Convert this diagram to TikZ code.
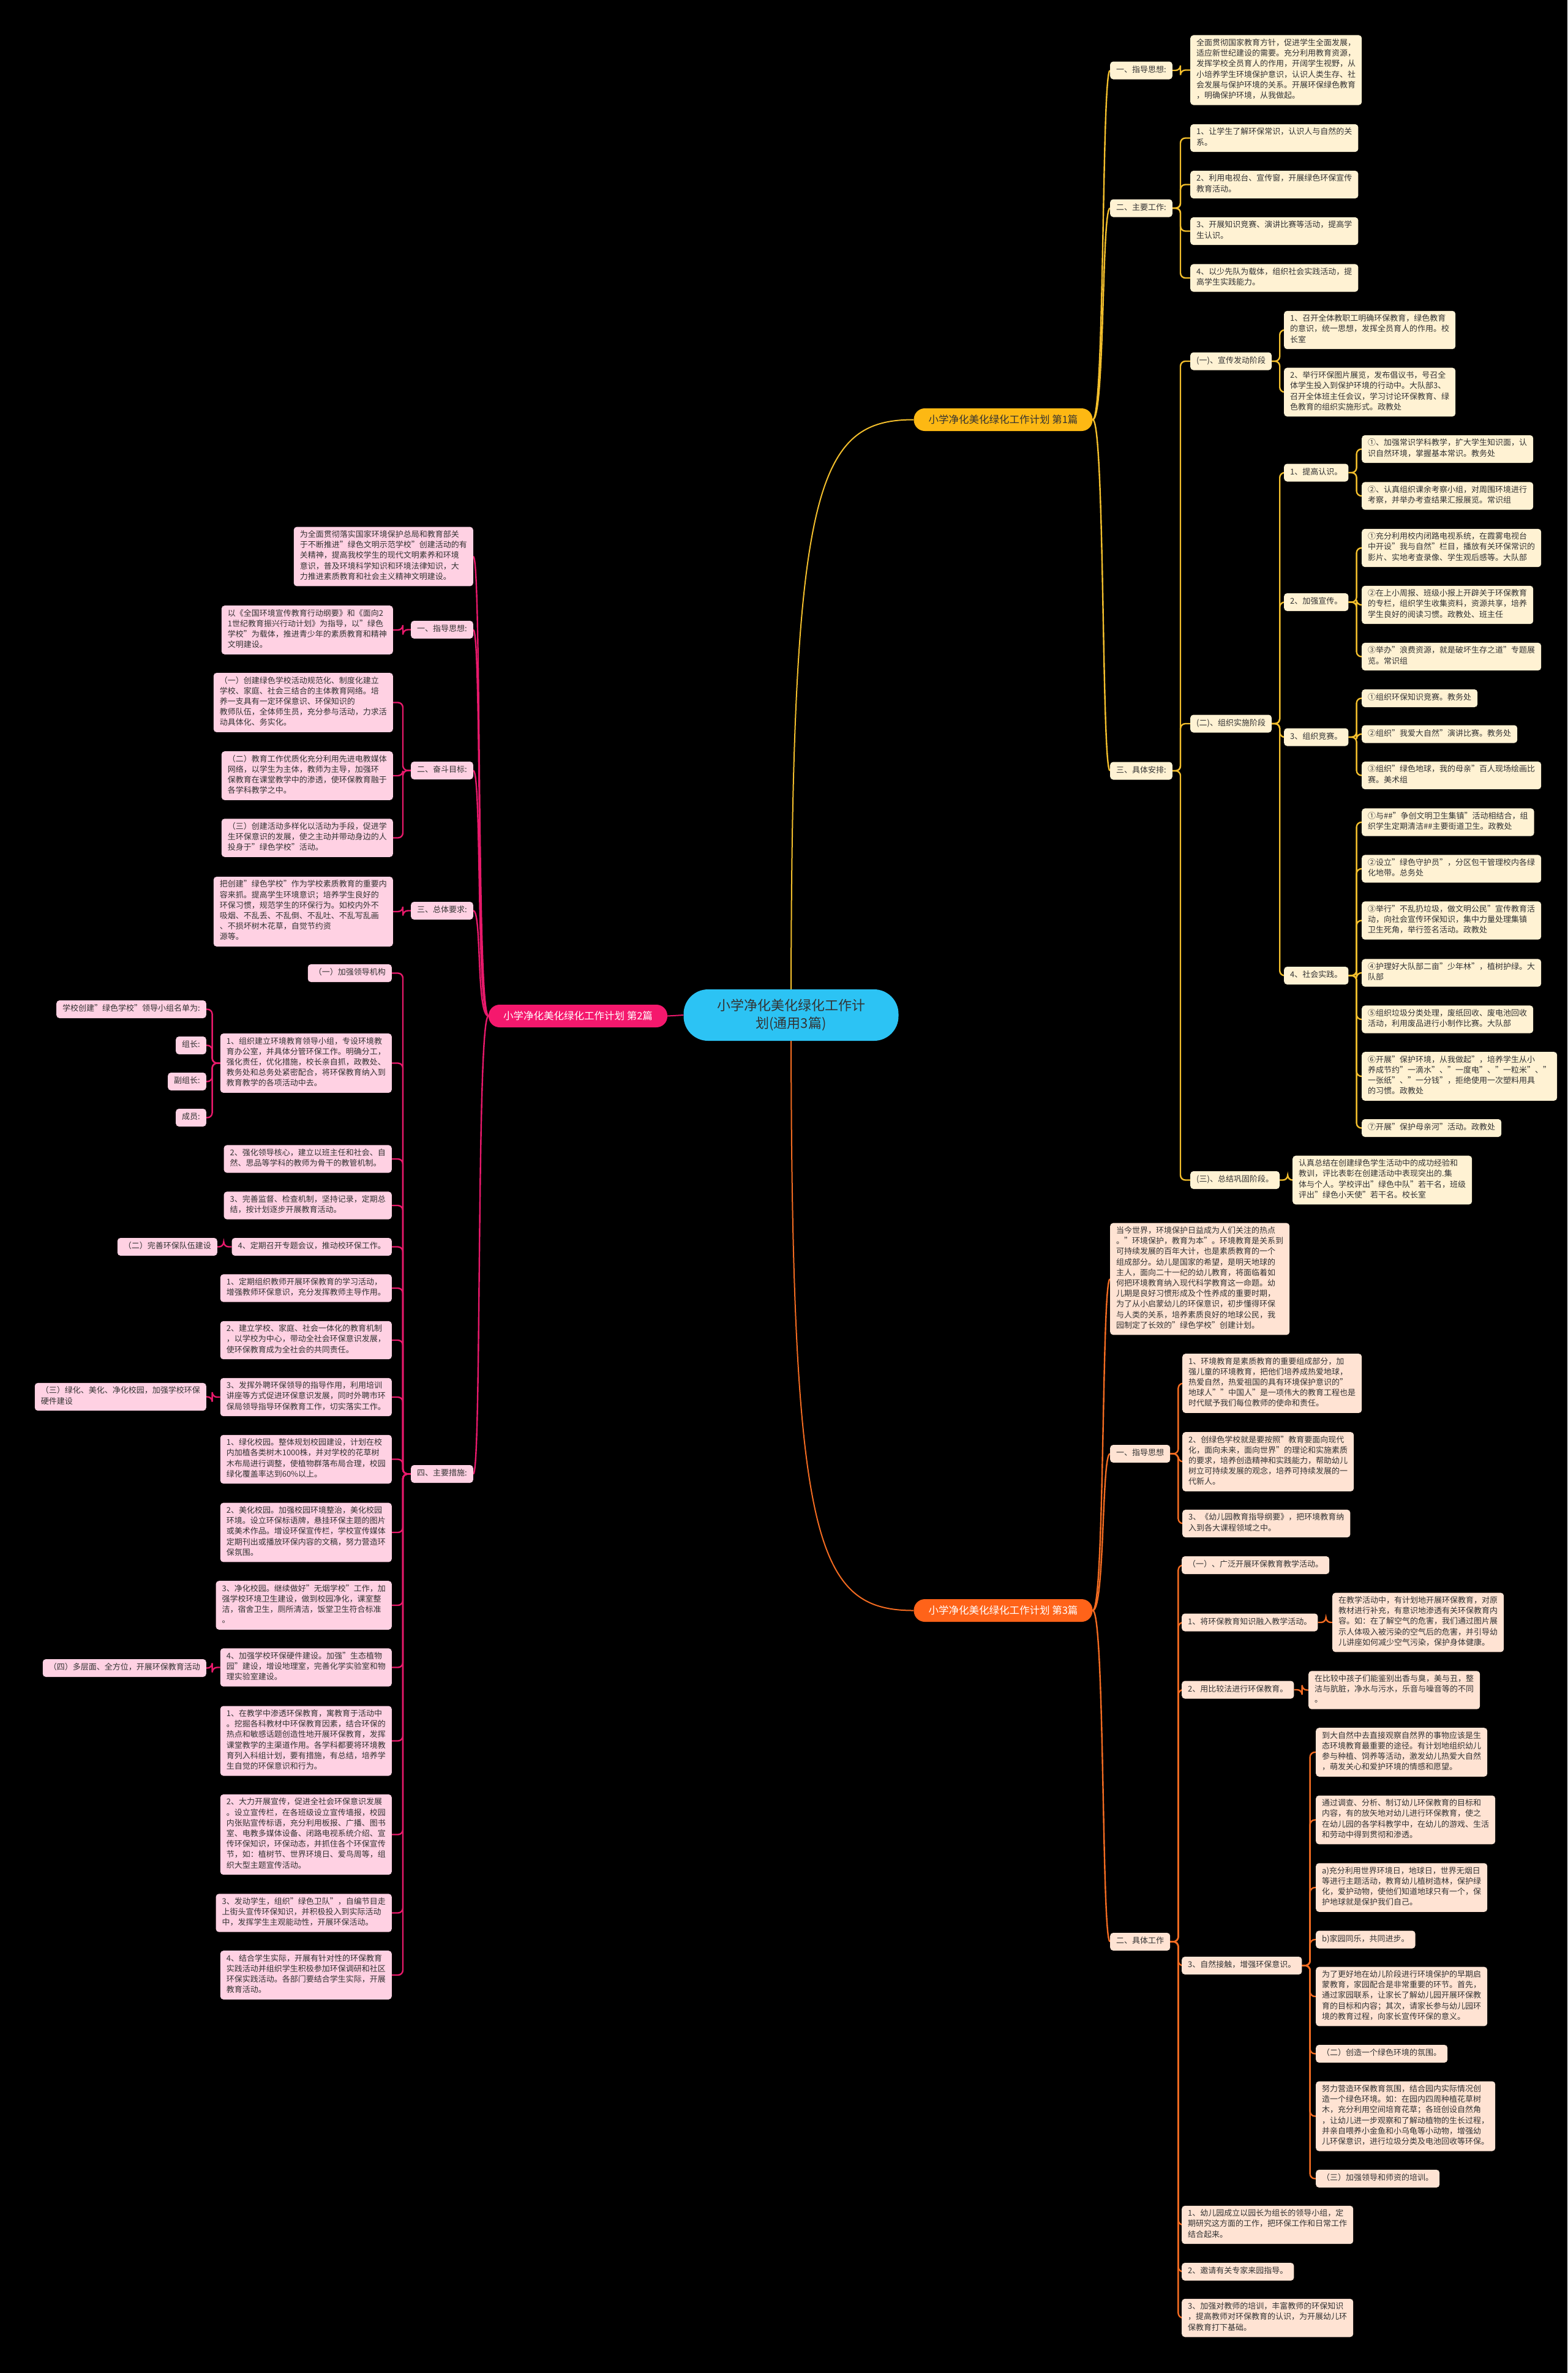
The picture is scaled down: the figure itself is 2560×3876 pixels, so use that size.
\documentclass[tikz,border=0pt]{standalone}
\usepackage{fontspec}
\setmainfont{Noto Sans CJK SC}
\definecolor{txt}{HTML}{333333}
\definecolor{cyanc}{HTML}{2CC3F4}
\definecolor{yfill}{HTML}{FFF2D3}
\definecolor{yline}{HTML}{F2BE2C}
\definecolor{ynode}{HTML}{FDB813}
\definecolor{pfill}{HTML}{FFD1E3}
\definecolor{pline}{HTML}{E8196B}
\definecolor{pnode}{HTML}{F5186D}
\definecolor{ofill}{HTML}{FFE3D3}
\definecolor{oline}{HTML}{F26B21}
\definecolor{onode}{HTML}{FF6319}
\pgfdeclarelayer{bgl}
\pgfdeclarelayer{edges}
\pgfsetlayers{bgl,edges,main}
\tikzset{
  box/.style={rounded corners=5pt, inner xsep=10pt, inner ysep=5.9pt, align=left, text=txt,
    font=\fontsize{13}{17.2}\selectfont, execute at begin node=\strut, execute at end node=\strut},
  ybox/.style={box, fill=yfill, anchor=west},
  obox/.style={box, fill=ofill, anchor=west},
  pbox/.style={box, fill=pfill, anchor=east},
  bnode/.style={rounded corners=18pt, minimum width=292pt, minimum height=37pt, inner sep=0pt,
    font=\fontsize{16.5}{20}\selectfont},
  rootnode/.style={fill=cyanc, rounded corners=40pt, minimum width=351pt, minimum height=84pt,
    align=center, text=txt, font=\fontsize{22}{29.5}\selectfont},
  yl/.style={draw=yline, line width=2.4pt, rounded corners=8pt},
  pl/.style={draw=pline, line width=2.4pt, rounded corners=8pt},
  ol/.style={draw=oline, line width=2.4pt, rounded corners=8pt},
}
\newcommand\edgeR[3]{\draw[#1] (#2.east) -- ++(13,0) |- (#3.west);}
\newcommand\edgeL[3]{\draw[#1] (#2.west) -- ++(-13,0) |- (#3.east);}
\newcommand\curR[3]{\draw[#1] (#2.east) .. controls +(20,0) and +(-14,0) .. (#3.west);}
\newcommand\curL[3]{\draw[#1] (#2.west) .. controls +(-20,0) and +(14,0) .. (#3.east);}
\begin{document}
\begin{tikzpicture}[x=1pt,y=-1pt]
\useasboundingbox (0,0) rectangle (2560,3876);
\begin{pgfonlayer}{bgl}
\fill[black] (0,0) rectangle (2560,3876);
\end{pgfonlayer}

% root and branches
\node[rootnode] (root) at (1292,1658) {小学净化美化绿化工作计\\划(通用3篇)};
\node[bnode, fill=ynode, text=txt] (b1) at (1638.5,685.5) {小学净化美化绿化工作计划 第1篇};
\node[bnode, fill=pnode, text=white] (b2) at (944,1659.5) {小学净化美化绿化工作计划 第2篇};
\node[bnode, fill=onode, text=white] (b3) at (1638.5,2630.5) {小学净化美化绿化工作计划 第3篇};

% ---------------- branch 1
\node[ybox] (a1) at (1813,115) {一、指导思想:};
\node[ybox] (a1x) at (1944,114.5) {全面贯彻国家教育方针，促进学生全面发展，\\适应新世纪建设的需要。充分利用教育资源，\\发挥学校全员育人的作用，开阔学生视野，从\\小培养学生环境保护意识，认识人类生存、社\\会发展与保护环境的关系。开展环保绿色教育\\，明确保护环境，从我做起。};
\node[ybox] (a2) at (1813,340) {二、主要工作:};
\node[ybox] (a2a) at (1944,225.5) {1、让学生了解环保常识，认识人与自然的关\\系。};
\node[ybox] (a2b) at (1944,301.5) {2、利用电视台、宣传窗，开展绿色环保宣传\\教育活动。};
\node[ybox] (a2c) at (1944,377.5) {3、开展知识竞赛、演讲比赛等活动，提高学\\生认识。};
\node[ybox] (a2d) at (1944,454) {4、以少先队为载体，组织社会实践活动，提\\高学生实践能力。};
\node[ybox] (a3) at (1813,1259) {三、具体安排:};
\node[ybox] (a31) at (1944,590) {(一)、宣传发动阶段};
\node[ybox] (a31a) at (2097,539) {1、召开全体教职工明确环保教育，绿色教育\\的意识，统一思想，发挥全员育人的作用。校\\长室};
\node[ybox] (a31b) at (2097,640.5) {2、举行环保图片展览，发布倡议书，号召全\\体学生投入到保护环境的行动中。大队部3、\\召开全体班主任会议，学习讨论环保教育、绿\\色教育的组织实施形式。政教处};
\node[ybox] (a32) at (1944,1182) {(二)、组织实施阶段};
\node[ybox] (a321) at (2097,772) {1、提高认识。};
\node[ybox] (a321a) at (2224,733.5) {①、加强常识学科教学，扩大学生知识面，认\\识自然环境，掌握基本常识。教务处};
\node[ybox] (a321b) at (2224,810) {②、认真组织课余考察小组，对周围环境进行\\考察，并举办考查结果汇报展览。常识组};
\node[ybox] (a322) at (2097,983.5) {2、加强宣传。};
\node[ybox] (a322a) at (2224,895) {①充分利用校内闭路电视系统，在霞雾电视台\\中开设"我与自然"栏目，播放有关环保常识的\\影片、实地考查录像、学生观后感等。大队部};
\node[ybox] (a322b) at (2224,988) {②在上小周报、班级小报上开辟关于环保教育\\的专栏，组织学生收集资料，资源共享，培养\\学生良好的阅读习惯。政教处、班主任};
\node[ybox] (a322c) at (2224,1072.5) {③举办"浪费资源，就是破坏生存之道"专题展\\览。常识组};
\node[ybox] (a323) at (2097,1204) {3、组织竞赛。};
\node[ybox] (a323a) at (2224,1140.5) {①组织环保知识竞赛。教务处};
\node[ybox] (a323b) at (2224,1199) {②组织"我爱大自然"演讲比赛。教务处};
\node[ybox] (a323c) at (2224,1266.5) {③组织"绿色地球，我的母亲"百人现场绘画比\\赛。美术组};
\node[ybox] (a324) at (2097,1593.5) {4、社会实践。};
\node[ybox] (a324a) at (2224,1343) {①与\#\#"争创文明卫生集镇"活动相结合，组\\织学生定期清洁\#\#主要街道卫生。政教处};
\node[ybox] (a324b) at (2224,1419) {②设立"绿色守护员"，分区包干管理校内各绿\\化地带。总务处};
\node[ybox] (a324c) at (2224,1503.5) {③举行"不乱扔垃圾，做文明公民"宣传教育活\\动，向社会宣传环保知识，集中力量处理集镇\\卫生死角，举行签名活动。政教处};
\node[ybox] (a324d) at (2224,1589) {④护理好大队部二亩"少年林"，植树护绿。大\\队部};
\node[ybox] (a324e) at (2224,1665) {⑤组织垃圾分类处理，废纸回收、废电池回收\\活动，利用废品进行小制作比赛。大队部};
\node[ybox] (a324f) at (2224,1758) {⑥开展"保护环境，从我做起"，培养学生从小\\养成节约"一滴水"、"一度电"、"一粒米"、"\\一张纸"、"一分钱"，拒绝使用一次塑料用具\\的习惯。政教处};
\node[ybox] (a324g) at (2224,1842.5) {⑦开展"保护母亲河"活动。政教处};
\node[ybox] (a33) at (1944,1927.5) {(三)、总结巩固阶段。};
\node[ybox] (a33a) at (2111,1927.5) {认真总结在创建绿色学生活动中的成功经验和\\教训，评比表彰在创建活动中表现突出的.集\\体与个人。学校评出"绿色中队"若干名，班级\\评出"绿色小天使"若干名。校长室};

% ---------------- branch 3
\node[obox] (c0) at (1813,2089) {当今世界，环境保护日益成为人们关注的热点\\。"环境保护，教育为本"。环境教育是关系到\\可持续发展的百年大计，也是素质教育的一个\\组成部分。幼儿是国家的希望，是明天地球的\\主人，面向二十一纪的幼儿教育，将面临着如\\何把环境教育纳入现代科学教育这一命题。幼\\儿期是良好习惯形成及个性养成的重要时期，\\为了从小启蒙幼儿的环保意识，初步懂得环保\\与人类的关系，培养素质良好的地球公民，我\\园制定了长效的"绿色学校"创建计划。};
\node[obox] (c1) at (1813,2374.5) {一、指导思想};
\node[obox] (c1a) at (1931,2259.5) {1、环境教育是素质教育的重要组成部分，加\\强儿童的环境教育，把他们培养成热爱地球，\\热爱自然，热爱祖国的具有环境保护意识的"\\地球人""中国人"是一项伟大的教育工程也是\\时代赋予我们每位教师的使命和责任。};
\node[obox] (c1b) at (1931,2387.5) {2、创绿色学校就是要按照"教育要面向现代\\化，面向未来，面向世界"的理论和实施素质\\的要求，培养创造精神和实践能力，帮助幼儿\\树立可持续发展的观念，培养可持续发展的一\\代新人。};
\node[obox] (c1c) at (1931,2488.5) {3、《幼儿园教育指导纲要》，把环境教育纳\\入到各大课程领域之中。};
\node[obox] (c2) at (1813,3171.5) {二、具体工作};
\node[obox] (c21) at (1930,2556.5) {（一）、广泛开展环保教育教学活动。};
\node[obox] (c22) at (1930,2650) {1、将环保教育知识融入教学活动。};
\node[obox] (c22a) at (2176,2650) {在教学活动中，有计划地开展环保教育，对原\\教材进行补充，有意识地渗透有关环保教育内\\容。如：在了解空气的危害，我们通过图片展\\示人体吸入被污染的空气后的危害，并引导幼\\儿讲座如何减少空气污染，保护身体健康。};
\node[obox] (c23) at (1930,2760) {2、用比较法进行环保教育。};
\node[obox] (c23a) at (2137,2760.5) {在比较中孩子们能鉴别出香与臭，美与丑，整\\洁与肮脏，净水与污水，乐音与噪音等的不同\\。};
\node[obox] (c24) at (1930,3210.5) {3、自然接触，增强环保意识。};
\node[obox] (c24a) at (2149,2862) {到大自然中去直接观察自然界的事物应该是生\\态环境教育最重要的途径。有计划地组织幼儿\\参与种植、饲养等活动，激发幼儿热爱大自然\\，萌发关心和爱护环境的情感和愿望。};
\node[obox] (c24b) at (2149,2972.5) {通过调查、分析、制订幼儿环保教育的目标和\\内容，有的放矢地对幼儿进行环保教育，使之\\在幼儿园的各学科教学中，在幼儿的游戏、生活\\和劳动中得到贯彻和渗透。};
\node[obox] (c24c) at (2149,3083) {a)充分利用世界环境日，地球日，世界无烟日\\等进行主题活动，教育幼儿植树造林，保护绿\\化，爱护动物，使他们知道地球只有一个，保\\护地球就是保护我们自己。};
\node[obox] (c24d) at (2149,3168) {b)家园同乐，共同进步。};
\node[obox] (c24e) at (2149,3261) {为了更好地在幼儿阶段进行环境保护的早期启\\蒙教育，家园配合是非常重要的环节。首先，\\通过家园联系，让家长了解幼儿园开展环保教\\育的目标和内容；其次，请家长参与幼儿园环\\境的教育过程，向家长宣传环保的意义。};
\node[obox] (c24f) at (2149,3354.5) {（二）创造一个绿色环境的氛围。};
\node[obox] (c24g) at (2149,3456.5) {努力营造环保教育氛围，结合园内实际情况创\\造一个绿色环境。如：在园内四周种植花草树\\木，充分利用空间培育花草；各班创设自然角\\，让幼儿进一步观察和了解动植物的生长过程，\\并亲自喂养小金鱼和小乌龟等小动物，增强幼\\儿环保意识，进行垃圾分类及电池回收等环保。};
\node[obox] (c24h) at (2149,3558.5) {（三）加强领导和师资的培训。};
\node[obox] (c25) at (1930,3634) {1、幼儿园成立以园长为组长的领导小组，定\\期研究这方面的工作，把环保工作和日常工作\\结合起来。};
\node[obox] (c26) at (1930,3710.5) {2、邀请有关专家来园指导。};
\node[obox] (c27) at (1930,3786) {3、加强对教师的培训，丰富教师的环保知识\\，提高教师对环保教育的认识，为开展幼儿环\\保教育打下基础。};

% ---------------- branch 2
\node[pbox] (d0) at (773,909) {为全面贯彻落实国家环境保护总局和教育部关\\于不断推进"绿色文明示范学校"创建活动的有\\关精神，提高我校学生的现代文明素养和环境\\意识，普及环境科学知识和环境法律知识，大\\力推进素质教育和社会主义精神文明建设。};
\node[pbox] (d1) at (773,1028.5) {一、指导思想:};
\node[pbox] (d1a) at (642,1029) {以《全国环境宣传教育行动纲要》和《面向2\\1世纪教育振兴行动计划》为指导，以"绿色\\学校"为载体，推进青少年的素质教育和精神\\文明建设。};
\node[pbox] (d2) at (773,1258.5) {二、奋斗目标:};
\node[pbox] (d2a) at (642,1147.5) {（一）创建绿色学校活动规范化、制度化建立\\学校、家庭、社会三结合的主体教育网络。培\\养一支具有一定环保意识、环保知识的\\教师队伍，全体师生员，充分参与活动，力求活\\动具体化、务实化。};
\node[pbox] (d2b) at (642,1267) {（二）教育工作优质化充分利用先进电教媒体\\网络，以学生为主体，教师为主导，加强环\\保教育在课堂教学中的渗透，使环保教育融于\\各学科教学之中。};
\node[pbox] (d2c) at (642,1368.5) {（三）创建活动多样化以活动为手段，促进学\\生环保意识的发展，使之主动并带动身边的人\\投身于"绿色学校"活动。};
\node[pbox] (d3) at (773,1487.5) {三、总体要求:};
\node[pbox] (d3a) at (642,1489) {把创建"绿色学校"作为学校素质教育的重要内\\容来抓。提高学生环境意识；培养学生良好的\\环保习惯，规范学生的环保行为。如校内外不\\吸烟、不乱丢、不乱倒、不乱吐、不乱写乱画\\、不损坏树木花草，自觉节约资\\源等。};
\node[pbox] (d4) at (773,2407.5) {四、主要措施:};
\node[pbox] (d41) at (640,1589.5) {（一）加强领导机构};
\node[pbox] (d42) at (640,1736.5) {1、组织建立环境教育领导小组，专设环境教\\育办公室，并具体分管环保工作。明确分工，\\强化责任，优化措施，校长亲自抓，政教处、\\教务处和总务处紧密配合，将环保教育纳入到\\教育教学的各项活动中去。};
\node[pbox] (d42a) at (337,1648.5) {学校创建"绿色学校"领导小组名单为:};
\node[pbox] (d42b) at (337,1707.5) {组长:};
\node[pbox] (d42c) at (337,1766.5) {副组长:};
\node[pbox] (d42d) at (337,1825.5) {成员:};
\node[pbox] (d43) at (640,1893) {2、强化领导核心，建立以班主任和社会、自\\然、思品等学科的教师为骨干的教管机制。};
\node[pbox] (d44) at (640,1969) {3、完善监督、检查机制，坚持记录，定期总\\结，按计划逐步开展教育活动。};
\node[pbox] (d45) at (640,2036.5) {4、定期召开专题会议，推动校环保工作。};
\node[pbox] (d45a) at (355,2036.5) {（二）完善环保队伍建设};
\node[pbox] (d46) at (640,2104) {1、定期组织教师开展环保教育的学习活动，\\增强教师环保意识，充分发挥教师主导作用。};
\node[pbox] (d47) at (640,2189) {2、建立学校、家庭、社会一体化的教育机制\\，以学校为中心，带动全社会环保意识发展，\\使环保教育成为全社会的共同责任。};
\node[pbox] (d48) at (640,2282) {3、发挥外聘环保领导的指导作用，利用培训\\讲座等方式促进环保意识发展，同时外聘市环\\保局领导指导环保教育工作，切实落实工作。};
\node[pbox] (d48a) at (337,2281.5) {（三）绿化、美化、净化校园，加强学校环保\\硬件建设};
\node[pbox] (d49) at (640,2383.5) {1、绿化校园。整体规划校园建设，计划在校\\内加植各类树木1000株，并对学校的花草树\\木布局进行调整，使植物群落布局合理，校园\\绿化覆盖率达到60\%以上。};
\node[pbox] (d410) at (640,2503) {2、美化校园。加强校园环境整治，美化校园\\环境。设立环保标语牌，悬挂环保主题的图片\\或美术作品。增设环保宣传栏，学校宣传媒体\\定期刊出或播放环保内容的文稿，努力营造环\\保氛围。};
\node[pbox] (d411) at (640,2622) {3、净化校园。继续做好"无烟学校"工作，加\\强学校环境卫生建设，做到校园净化，课室整\\洁，宿舍卫生，厕所清洁，饭堂卫生符合标准\\。};
\node[pbox] (d412) at (640,2723.5) {4、加强学校环保硬件建设。加强"生态植物\\园"建设，增设地理室，完善化学实验室和物\\理实验室建设。};
\node[pbox] (d412a) at (337,2724.5) {（四）多层面、全方位，开展环保教育活动};
\node[pbox] (d413) at (640,2843.5) {1、在教学中渗透环保教育，寓教育于活动中\\。挖掘各科教材中环保教育因素，结合环保的\\热点和敏感话题创造性地开展环保教育，发挥\\课堂教学的主渠道作用。各学科都要将环境教\\育列入科组计划，要有措施，有总结，培养学\\生自觉的环保意识和行为。};
\node[pbox] (d414) at (640,2996.5) {2、大力开展宣传，促进全社会环保意识发展\\。设立宣传栏，在各班级设立宣传墙报，校园\\内张贴宣传标语，充分利用板报、广播、图书\\室、电教多媒体设备、闭路电视系统介绍、宣\\传环保知识，环保动态，并抓住各个环保宣传\\节，如：植树节、世界环境日、爱鸟周等，组\\织大型主题宣传活动。};
\node[pbox] (d415) at (640,3124.5) {3、发动学生，组织"绿色卫队"，自编节目走\\上街头宣传环保知识，并积极投入到实际活动\\中，发挥学生主观能动性，开展环保活动。};
\node[pbox] (d416) at (640,3226) {4、结合学生实际，开展有针对性的环保教育\\实践活动并组织学生积极参加环保调研和社区\\环保实践活动。各部门要结合学生实际，开展\\教育活动。};

% ---------------- connectors
\begin{pgfonlayer}{edges}
\draw[draw=yline, line width=2pt] (root.center) .. controls (1292,800) and (1330,685.5) .. (b1.west);
\draw[draw=oline, line width=2pt] (root.center) .. controls (1292,2516) and (1330,2630.5) .. (b3.west);
\draw[draw=pline, line width=2pt] (root.west) -- (b2.east);
% branch 1
\curR{yl}{b1}{a1} \curR{yl}{b1}{a2} \curR{yl}{b1}{a3}
\edgeR{yl}{a1}{a1x}
\edgeR{yl}{a2}{a2a} \edgeR{yl}{a2}{a2b} \edgeR{yl}{a2}{a2c} \edgeR{yl}{a2}{a2d}
\edgeR{yl}{a3}{a31} \edgeR{yl}{a3}{a32} \edgeR{yl}{a3}{a33}
\edgeR{yl}{a31}{a31a} \edgeR{yl}{a31}{a31b}
\edgeR{yl}{a32}{a321} \edgeR{yl}{a32}{a322} \edgeR{yl}{a32}{a323} \edgeR{yl}{a32}{a324}
\edgeR{yl}{a321}{a321a} \edgeR{yl}{a321}{a321b}
\edgeR{yl}{a322}{a322a} \edgeR{yl}{a322}{a322b} \edgeR{yl}{a322}{a322c}
\edgeR{yl}{a323}{a323a} \edgeR{yl}{a323}{a323b} \edgeR{yl}{a323}{a323c}
\edgeR{yl}{a324}{a324a} \edgeR{yl}{a324}{a324b} \edgeR{yl}{a324}{a324c} \edgeR{yl}{a324}{a324d}
\edgeR{yl}{a324}{a324e} \edgeR{yl}{a324}{a324f} \edgeR{yl}{a324}{a324g}
\edgeR{yl}{a33}{a33a}
% branch 3
\curR{ol}{b3}{c0} \curR{ol}{b3}{c1} \curR{ol}{b3}{c2}
\edgeR{ol}{c1}{c1a} \edgeR{ol}{c1}{c1b} \edgeR{ol}{c1}{c1c}
\edgeR{ol}{c2}{c21} \edgeR{ol}{c2}{c22} \edgeR{ol}{c2}{c23} \edgeR{ol}{c2}{c24}
\edgeR{ol}{c2}{c25} \edgeR{ol}{c2}{c26} \edgeR{ol}{c2}{c27}
\edgeR{ol}{c22}{c22a} \edgeR{ol}{c23}{c23a}
\edgeR{ol}{c24}{c24a} \edgeR{ol}{c24}{c24b} \edgeR{ol}{c24}{c24c} \edgeR{ol}{c24}{c24d}
\edgeR{ol}{c24}{c24e} \edgeR{ol}{c24}{c24f} \edgeR{ol}{c24}{c24g} \edgeR{ol}{c24}{c24h}
% branch 2
\curL{pl}{b2}{d0} \curL{pl}{b2}{d1} \curL{pl}{b2}{d2} \curL{pl}{b2}{d3} \curL{pl}{b2}{d4}
\edgeL{pl}{d1}{d1a}
\edgeL{pl}{d2}{d2a} \edgeL{pl}{d2}{d2b} \edgeL{pl}{d2}{d2c}
\edgeL{pl}{d3}{d3a}
\edgeL{pl}{d4}{d41} \edgeL{pl}{d4}{d42} \edgeL{pl}{d4}{d43} \edgeL{pl}{d4}{d44}
\edgeL{pl}{d4}{d45} \edgeL{pl}{d4}{d46} \edgeL{pl}{d4}{d47} \edgeL{pl}{d4}{d48}
\edgeL{pl}{d4}{d49} \edgeL{pl}{d4}{d410} \edgeL{pl}{d4}{d411} \edgeL{pl}{d4}{d412}
\edgeL{pl}{d4}{d413} \edgeL{pl}{d4}{d414} \edgeL{pl}{d4}{d415} \edgeL{pl}{d4}{d416}
\edgeL{pl}{d42}{d42a} \edgeL{pl}{d42}{d42b} \edgeL{pl}{d42}{d42c} \edgeL{pl}{d42}{d42d}
\edgeL{pl}{d45}{d45a} \edgeL{pl}{d48}{d48a} \edgeL{pl}{d412}{d412a}
\end{pgfonlayer}
\end{tikzpicture}
\end{document}
